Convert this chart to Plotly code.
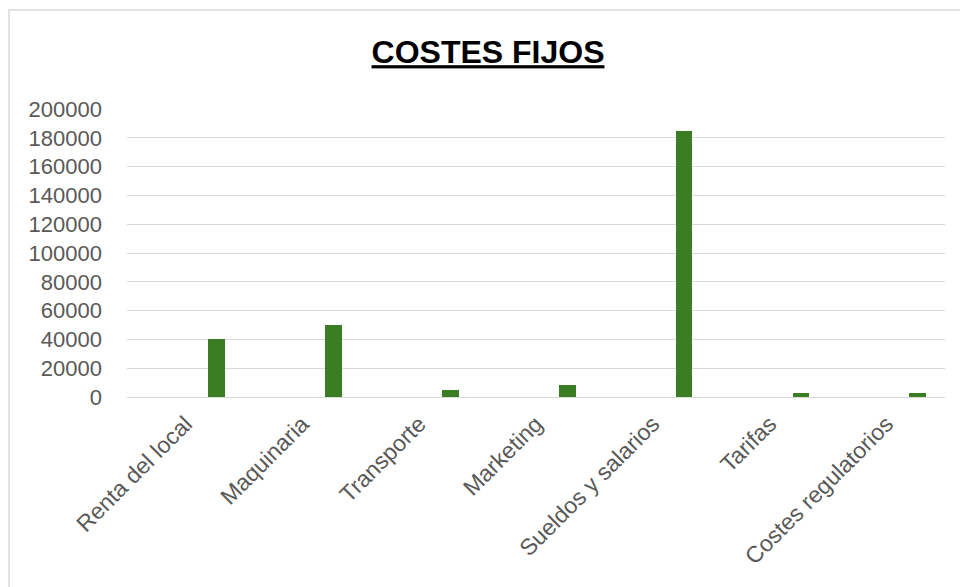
import plotly.graph_objects as go

categories = ["Renta del local", "Maquinaria", "Transporte", "Marketing",
              "Sueldos y salarios", "Tarifas", "Costes regulatorios"]
values = [40000, 50000, 5000, 8000, 185000, 2500, 2500]
y_ticks = list(range(0, 200001, 20000))
title_text = "COSTES FIJOS"

W, H = 960, 587
ml, mr, mt, mb = 127, 15, 109, 190
pw, ph = W - ml - mr, H - mt - mb

fig = go.Figure()
fig.add_trace(go.Bar(
    x=categories, y=values,
    marker=dict(color="#3A7D22", line=dict(width=0)),
    width=0.143, offset=0.196,
    showlegend=False,
))

# outer chart border (light grey)
fig.add_shape(type="rect", xref="paper", yref="paper",
              x0=(9 - ml) / pw, x1=(W + 20 - ml) / pw,
              y0=-(H + 20 - (mt + ph)) / ph, y1=(mt + ph - 10) / ph,
              line=dict(color="#D9D9D9", width=1.5), fillcolor="rgba(0,0,0,0)",
              layer="below")

fig.update_layout(
    width=W, height=H,
    margin=dict(l=ml, r=mr, t=mt, b=mb, pad=0),
    paper_bgcolor="white", plot_bgcolor="white",
    font=dict(family="Liberation Sans, Arial, sans-serif", color="#595959", size=22),
    title=dict(text="<b><u>" + title_text + "</u></b>",
               x=488 / W, xref="container", xanchor="center",
               y=1 - 52 / H, yref="container", yanchor="middle",
               font=dict(family="Liberation Sans, Arial, sans-serif", size=32, color="#000000")),
    xaxis=dict(
        type="category", range=[-0.5, len(categories) - 0.5],
        tickangle=-45, showgrid=False, showline=False, ticks="",
        ticklabelstandoff=8,
        tickfont=dict(size=23, color="#595959"),
    ),
    yaxis=dict(
        range=[0, 200000], tickvals=y_ticks, tickformat="d",
        showgrid=True, gridcolor="#D9D9D9", gridwidth=1,
        zeroline=True, zerolinecolor="#D9D9D9", zerolinewidth=1,
        showline=False, ticks="", ticklabelstandoff=24,
        tickfont=dict(size=22, color="#595959"),
    ),
    bargap=0,
)

fig.write_html(
    "out.html",
    config={"displayModeBar": False},
    post_script="document.body.style.margin='0';document.body.style.padding='0';"
                "document.documentElement.style.overflow='hidden';",
)
